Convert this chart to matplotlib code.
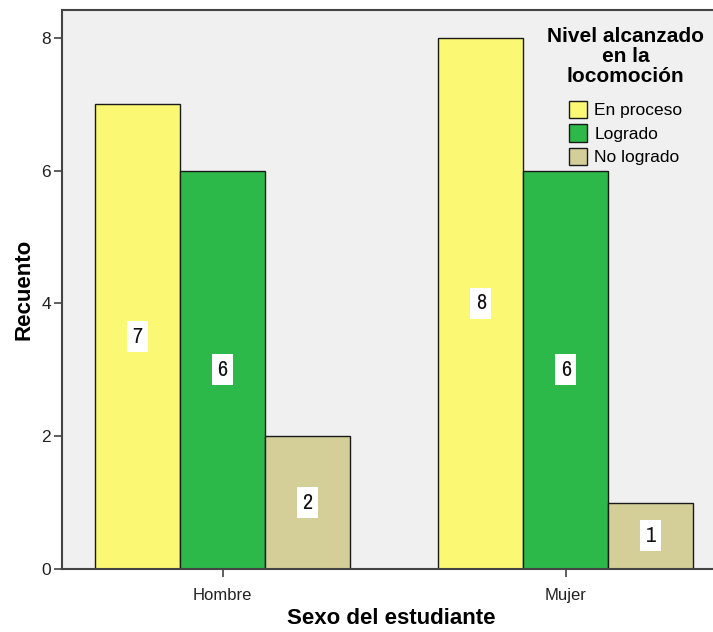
import matplotlib
matplotlib.use("Agg")
import matplotlib.pyplot as plt
from matplotlib.patches import Patch
from matplotlib import font_manager

categories = ["Hombre", "Mujer"]
series_names = ["En proceso", "Logrado", "No logrado"]
counts = {
    "En proceso": [7, 8],
    "Logrado": [6, 6],
    "No logrado": [2, 1],
}
colors = {
    "En proceso": "#FBF873",
    "Logrado": "#2DB84A",
    "No logrado": "#D4CF99",
}
y_ticks = [0, 2, 4, 6, 8]

plt.rcParams["font.family"] = ["Liberation Sans", "DejaVu Sans"]


def condensed_font():
    """Pick a narrow sans face for the in-bar count labels, if one exists."""
    for f in font_manager.fontManager.ttflist:
        if ("Narrow" in f.name or "Condensed" in f.name) and f.weight in (400, "normal", "regular") and f.style == "normal":
            return font_manager.FontProperties(fname=f.fname)
    for f in font_manager.fontManager.ttflist:
        st = f.stretch
        if isinstance(st, str) and "condensed" in st.lower() and f.style == "normal" and f.weight in (400, "normal"):
            return font_manager.FontProperties(fname=f.fname)
        if isinstance(st, (int, float)) and st < 500 and f.style == "normal" and f.weight in (400, "normal"):
            return font_manager.FontProperties(fname=f.fname)
    return None


narrow_fp = condensed_font()

fig = plt.figure(figsize=(7.13, 6.32), dpi=100)
ax = fig.add_axes([62 / 713, 1 - 569 / 632, 1 - 62 / 713 + 0.01, (569 - 10) / 632])
ax.set_facecolor("#F0F0F0")

width = 0.248
offsets = [-0.2475, 0.0, 0.2475]
group_pos = [0, 1]

for s, off in zip(series_names, offsets):
    for g, v in zip(group_pos, counts[s]):
        x = g + off
        ax.bar(x, v, width=width, color=colors[s], edgecolor="#1a1a1a",
               linewidth=1.0, zorder=2)
        kw = dict(ha="center", va="center", color="#111111", zorder=3,
                  bbox=dict(boxstyle="square,pad=0.25", fc="white", ec="none"))
        if narrow_fp is not None:
            fp = narrow_fp.copy()
            fp.set_size(16)
            ax.text(x, v / 2, str(v), fontproperties=fp, **kw)
        else:
            ax.text(x, v / 2, str(v), fontsize=14, **kw)

ax.set_xlim(-0.468, 1.45)
ax.set_ylim(0, 8.42)
ax.set_yticks(y_ticks)
ax.set_yticklabels([str(t) for t in y_ticks], fontsize=12.5, color="#222222")
ax.set_xticks(group_pos)
ax.set_xticklabels(categories, fontsize=12, color="#222222")
ax.tick_params(axis="y", length=6, width=1.2, color="#444444", pad=2)
ax.tick_params(axis="x", length=6, width=1.2, color="#444444", pad=8)

for side in ["left", "bottom", "top"]:
    ax.spines[side].set_color("#444444")
    ax.spines[side].set_linewidth(1.5)
ax.spines["right"].set_visible(False)

ax.set_ylabel("Recuento", fontsize=16, fontweight="bold", labelpad=5)
ax.set_xlabel("Sexo del estudiante", fontsize=16, fontweight="bold", labelpad=3)

handles = [Patch(facecolor=colors[s], edgecolor="#1a1a1a", linewidth=1.0) for s in series_names]
leg = ax.legend(handles, series_names, title="Nivel alcanzado\nen la\nlocomoción",
                loc="upper left", bbox_to_anchor=(473 / 651, 0.982), frameon=False,
                fontsize=12.5, handlelength=1.05, handleheight=1.15, handletextpad=0.4,
                labelspacing=0.35, borderaxespad=0)
leg.get_title().set_fontweight("bold")
leg.get_title().set_fontsize(15)
leg.get_title().set_multialignment("center")
leg.get_title().set_linespacing(1.05)
# extra room between the legend title and its entries
leg._legend_box.sep = 11

fig.savefig("out.png", dpi=100, facecolor="white")
